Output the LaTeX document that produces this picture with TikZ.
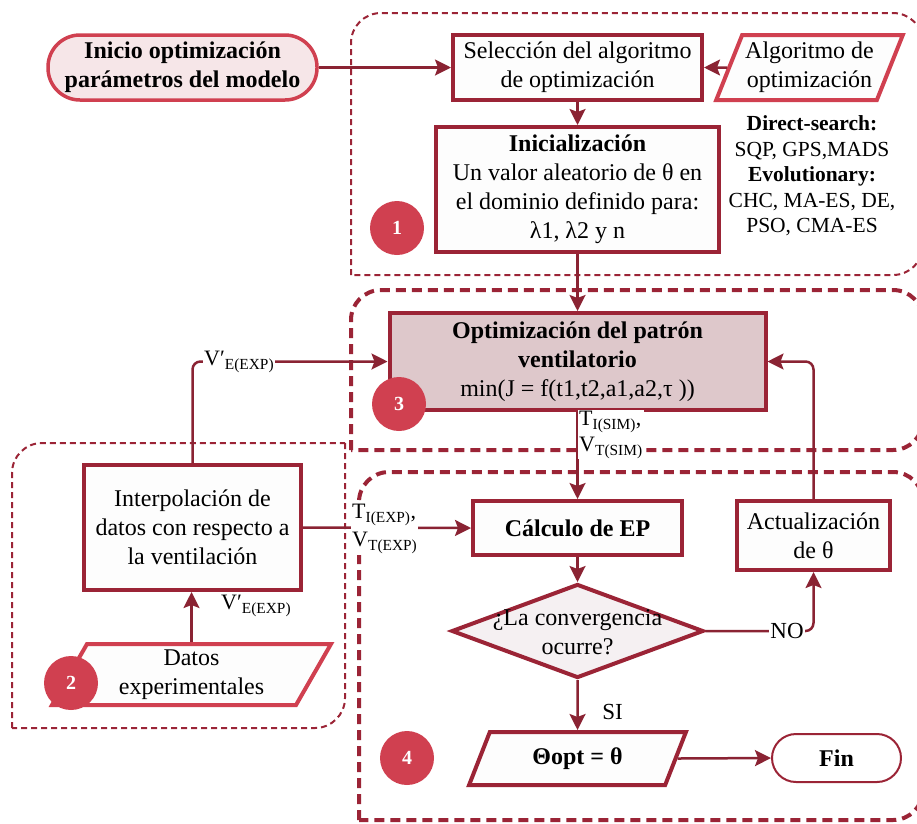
\documentclass[tikz,border=0pt]{standalone}
\usepackage{fontspec}
\setmainfont{Liberation Serif}
\usetikzlibrary{shapes.geometric,arrows.meta}

\definecolor{boxred}{HTML}{9B2436}
\definecolor{brightred}{HTML}{D04050}
\definecolor{linkred}{HTML}{8A2333}
\definecolor{optfill}{HTML}{DEC8CB}
\definecolor{startfill}{HTML}{F6E6E8}
\definecolor{decfill}{HTML}{F5F0F2}
\definecolor{plainfill}{HTML}{FDFDFD}

\tikzset{
  big/.style={font=\fontsize{24}{29}\selectfont},
  procbox/.style={rectangle, draw=boxred, line width=4pt, fill=plainfill,
    inner sep=0pt, align=center, big},
  databox/.style={trapezium, trapezium stretches=true,
    trapezium left angle=64, trapezium right angle=116,
    draw=brightred, line width=4pt, fill=plainfill, inner sep=0pt,
    align=center, big},
  startnode/.style={rectangle, rounded corners=32pt, draw=brightred,
    line width=3.5pt, fill=startfill, inner sep=0pt, align=center, big},
  endnode/.style={rectangle, rounded corners=24pt, draw=boxred,
    line width=2pt, fill=white, inner sep=0pt, align=center, big},
  decision/.style={diamond, draw=boxred, line width=4pt, fill=decfill,
    inner sep=0pt},
  badge/.style={circle, fill=brightred, minimum size=54pt, inner sep=0pt,
    text=white, font=\fontsize{20}{24}\selectfont\bfseries},
  link/.style={draw=linkred, line width=2.5pt,
    -{Stealth[length=16pt,width=16pt,inset=3pt]}},
  lbl/.style={inner sep=1pt, align=left, font=\fontsize{22}{27}\selectfont},
  regthin/.style={draw=boxred, line width=2pt, dash pattern=on 6pt off 4pt,
    rounded corners=30pt},
  regthick/.style={draw=boxred, line width=4pt, dash pattern=on 10pt off 6pt,
    rounded corners=30pt},
}

\begin{document}
\begin{tikzpicture}[x=1pt, y=-1pt]
\useasboundingbox (0,0) rectangle (917,823);
\clip (0,0) rectangle (917,823);

% dashed stage regions
\draw[regthin] (351,275) -- (351,13) -- (923,13) -- (923,275) -- (351,275);
\draw[regthick] (351,450) -- (351,290) -- (923,290) -- (923,450) -- (351,450);
\draw[regthin] (12,728) -- (12,443) -- (345,443);
\draw[regthin] (345,443) -- (345,728) -- (12,728);
\draw[regthick] (359,820) -- (359,472) -- (923,472) -- (923,820) -- (359,820);

% process nodes
\node[startnode, minimum width=269pt, minimum height=65pt] (start) at (182.5,67.5)
  {\textbf{Inicio optimización}\\\textbf{parámetros del modelo}};
\node[procbox, minimum width=249pt, minimum height=65pt] (sel) at (577.5,67.5)
  {Selección del algoritmo\\de optimización};
\node[databox, minimum width=187pt, minimum height=65pt] (alg) at (809.5,67.5)
  {Algoritmo de\\optimización};
\node[procbox, minimum width=283pt, minimum height=125pt] (init) at (577.5,189.5)
  {\textbf{Inicialización}\\Un valor aleatorio de θ en\\el dominio definido para:\\λ1, λ2 y n};
\node[align=center, font=\fontsize{21.5}{25.5}\selectfont] (methods) at (812,176)
  {\textbf{Direct-search:}\\SQP, GPS,MADS\\\textbf{Evolutionary:}\\CHC, MA-ES, DE,\\PSO, CMA-ES};
\node[procbox, fill=optfill, minimum width=376pt, minimum height=97pt] (opt) at (577.5,361.5)
  {\textbf{Optimización del patrón}\\\textbf{ventilatorio}\\min(J = f(t1,t2,a1,a2,τ ))};
\node[procbox, minimum width=217pt, minimum height=125pt] (interp) at (192.5,527.5)
  {Interpolación de\\datos con respecto a\\la ventilación};
\node[databox, minimum width=279pt, minimum height=61pt] (datos) at (191.5,674.5)
  {Datos\\experimentales};
\node[procbox, minimum width=209pt, minimum height=54pt] (calc) at (577.5,528)
  {\textbf{Cálculo de EP}};
\node[procbox, minimum width=153pt, minimum height=69pt] (upd) at (813.5,535.5)
  {Actualización\\de θ};
\node[decision, minimum width=252pt, minimum height=94pt] (conv) at (577.5,631) {};
\node[big, align=center] (convtext) at (577.5,632.5) {¿La convergencia\\ocurre?};
\node[databox, draw=boxred, minimum width=217pt, minimum height=53pt] (res) at (577.5,758.5)
  {\textbf{Θopt = θ}};
\node[endnode, minimum width=129pt, minimum height=48pt] (fin) at (836.5,758)
  {\textbf{Fin}};

% connectors
\draw[link] (start.east) -- (sel.west);
\draw[link] (alg.west) -- (sel.east);
\draw[link] (sel.south) -- (init.north);
\draw[link] (init.south) -- (opt.north);
\draw[link] (opt.south) -- (calc.north);
\draw[link] (interp.east) -- (calc.west);
\draw[link] (datos.north) -- (datos.north |- interp.south);
\draw[link, rounded corners=8pt] (interp.north) |- (opt.west);
\draw[link, rounded corners=8pt] (upd.north) |- (opt.east);
\draw[link] (calc.south) -- (conv.north);
\draw[link, rounded corners=8pt] (conv.east) -- (upd.south |- conv.east) -- (upd.south);
\draw[link] (conv.south) -- (res.north);
\draw[link] (res.east) -- (fin.west);

% connector labels
\node[lbl, fill=white, anchor=west] (vtop) at (203,362) {V′\textsubscript{E(EXP)}};
\node[lbl, anchor=west] (vlow) at (220,606) {V′\textsubscript{E(EXP)}};
\node[lbl, fill=white, anchor=north west, font=\fontsize{22}{26}\selectfont] (simlbl) at (578,410)
  {T\textsubscript{I(SIM)},\\V\textsubscript{T(SIM)}};
\node[lbl, fill=white, anchor=west, font=\fontsize{22}{28}\selectfont] (explbl) at (351,529)
  {T\textsubscript{I(EXP)},\\V\textsubscript{T(EXP)}};
\node[lbl, fill=white, font=\fontsize{23}{27}\selectfont] (nolbl) at (787,631) {NO};
\node[lbl, font=\fontsize{23}{27}\selectfont] (silbl) at (612.5,712) {SI};

% stage badges
\node[badge] (b1) at (397,228) {1};
\node[badge] (b2) at (71,683) {2};
\node[badge] (b3) at (399,404) {3};
\node[badge] (b4) at (407,758) {4};
\end{tikzpicture}
\end{document}
